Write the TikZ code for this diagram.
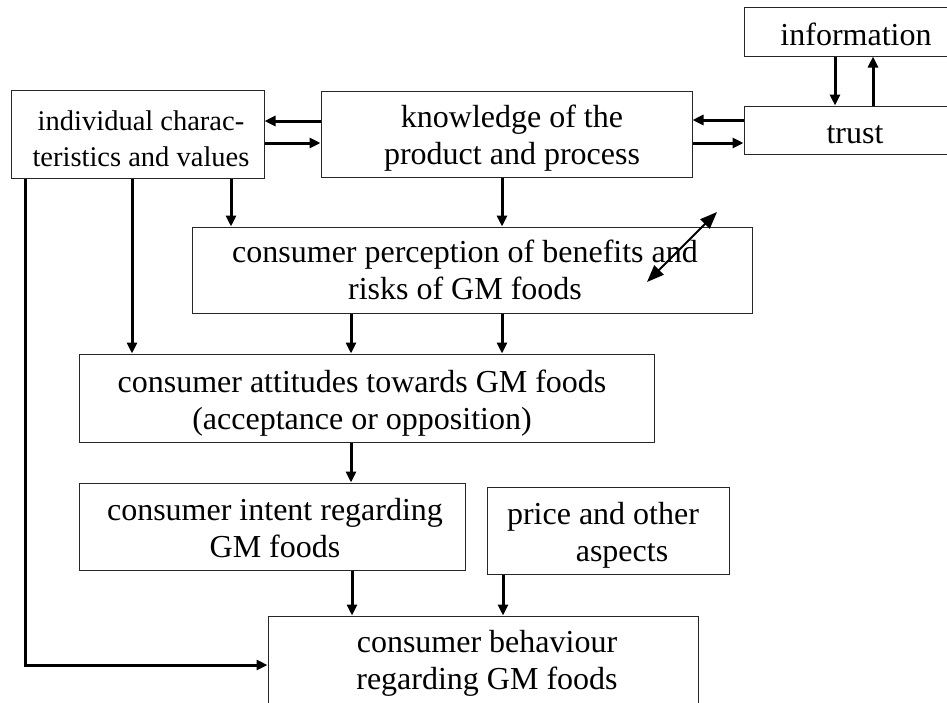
\documentclass[tikz,border=0pt]{standalone}
\usepackage{fontspec}
\setmainfont{Liberation Serif}
\usetikzlibrary{arrows.meta}
\tikzset{
  boxnode/.style={draw=black!85, line width=1pt, rectangle, inner sep=0pt, fill=none},
  txt/.style={anchor=base, align=center, inner sep=0pt, font=\fontsize{32pt}{37pt}\selectfont},
  arr/.style={line width=3pt, -{Triangle[length=11pt,width=10pt]}},
  dblarr/.style={line width=2pt, {Triangle[length=17pt,width=13pt]}-{Triangle[length=17pt,width=13pt]}}
}
\begin{document}
\begin{tikzpicture}[x=1pt,y=-1pt]
\useasboundingbox (0,0) rectangle (947,702);
\clip (0,0) rectangle (947,702);
\fill[white] (0,0) rectangle (947,702);

% boxes
\node[boxnode, minimum width=224pt, minimum height=49pt] (info) at (856,31.5) {};
\node[boxnode, minimum width=224pt, minimum height=48pt] (trust) at (856,130) {};
\node[boxnode, minimum width=371pt, minimum height=86pt] (know) at (506.5,134) {};
\node[boxnode, minimum width=253pt, minimum height=88pt] (ind) at (137.5,134) {};
\node[boxnode, minimum width=560pt, minimum height=86pt] (perc) at (472,270) {};
\node[boxnode, minimum width=575pt, minimum height=88pt] (att) at (366.5,398) {};
\node[boxnode, minimum width=386pt, minimum height=87pt] (intent) at (272,526.5) {};
\node[boxnode, minimum width=242pt, minimum height=87pt] (price) at (608,530.5) {};
\node[boxnode, minimum width=430pt, minimum height=120pt] (behav) at (483,676) {};

% texts (base anchor = baseline of last line)
\node[txt] (info-t) at (856,45) {information};
\node[txt] (trust-t) at (855,143) {trust};
\node[txt] (know-t) at (512,164) {knowledge of the\\product and process};
\node[txt, font=\fontsize{28.5pt}{36pt}\selectfont] (ind-t) at (141,166) {individual charac-\\teristics and values};
\node[txt] (perc-t) at (465,299) {consumer perception of benefits and\\risks of GM foods};
\node[txt] (att-t) at (362,429) {consumer attitudes towards GM foods\\(acceptance or opposition)};
\node[txt] (intent-t) at (275,557) {consumer intent regarding\\GM foods};
\node[txt] (price-t) at (603,561) {price and other\\\hspace*{38pt}aspects};
\node[txt] (behav-t) at (487,689) {consumer behaviour\\regarding GM foods};

% connectors
\draw[arr] (info.south -| 835,0) -- (trust.north -| 835,0);
\draw[arr] (trust.north -| 873,0) -- (info.south -| 873,0);
\draw[arr] (trust.west |- 0,120) -- (know.east |- 0,120);
\draw[arr] (know.east |- 0,143) -- (trust.west |- 0,143);
\draw[arr] (know.west |- 0,121) -- (ind.east |- 0,121);
\draw[arr] (ind.east |- 0,143) -- (know.west |- 0,143);
\draw[arr] (ind.south -| 231,0) -- (perc.north -| 231,0);
\draw[arr] (ind.south -| 132,0) -- (att.north -| 132,0);
\coordinate (corner) at (25,665);
\draw[arr] (ind.south -| corner) -- (corner) -- (behav.west |- corner);
\draw[arr] (know.south -| 502,0) -- (perc.north -| 502,0);
\draw[arr] (perc.south -| 351,0) -- (att.north -| 351,0);
\draw[arr] (perc.south -| 502,0) -- (att.north -| 502,0);
\draw[arr] (att.south -| 351,0) -- (intent.north -| 351,0);
\draw[arr] (intent.south -| 352,0) -- (behav.north -| 352,0);
\draw[arr] (price.south -| 503,0) -- (behav.north -| 503,0);
\coordinate (dA) at (647,282);
\coordinate (dB) at (717,212);
\draw[dblarr] (dA) -- (dB);
\end{tikzpicture}
\end{document}
